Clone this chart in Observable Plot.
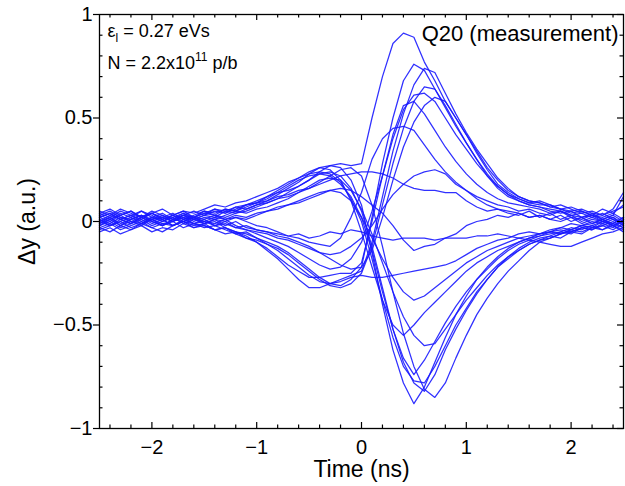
<!DOCTYPE html>
<html>
<head>
<meta charset="utf-8">
<script src="https://cdn.jsdelivr.net/npm/d3@7"></script>
<script src="https://cdn.jsdelivr.net/npm/@observablehq/plot@0.6"></script>
<style>
  html, body { margin: 0; padding: 0; background: #fff; }
  svg { display: block; }
</style>
</head>
<body>
<div id="chart"></div>
<script>
// ---- data ----
const time = [-2.5,-2.4,-2.3,-2.2,-2.1,-2.0,-1.9,-1.8,-1.7,-1.6,-1.5,-1.4,-1.3,-1.2,-1.1,
  -1.0,-0.9,-0.8,-0.7,-0.6,-0.5,-0.4,-0.3,-0.2,-0.1,
  0.0,0.1,0.2,0.3,0.4,0.5,0.6,0.7,0.8,0.9,1.0,
  1.1,1.2,1.3,1.4,1.5,1.6,1.7,1.8,1.9,2.0,2.1,2.2,2.3,2.4,2.5];

const p1 = [0.03,0.05,0.02,0.01,0.03,0.00,0.02,0.04,0.01,0.03,0.05,0.04,0.06,0.05,0.08,
  0.09,0.12,0.14,0.15,0.17,0.20,0.24,0.27,0.28,0.27,
  0.28,0.50,0.70,0.86,0.91,0.89,0.77,0.68,0.58,0.50,0.42,
  0.34,0.26,0.20,0.15,0.12,0.10,0.09,0.07,0.06,0.04,0.05,0.03,0.02,0.04,0.01];
const p2 = [-0.02,0.01,0.03,0.00,-0.01,0.02,0.01,-0.02,0.00,-0.03,-0.01,-0.04,-0.03,-0.06,-0.05,
  -0.08,-0.10,-0.12,-0.15,-0.19,-0.23,-0.27,-0.30,-0.31,-0.28,
  -0.22,0.02,0.28,0.50,0.68,0.76,0.73,0.64,0.55,0.46,0.38,
  0.30,0.23,0.17,0.13,0.10,0.08,0.07,0.06,0.05,0.03,0.04,0.02,0.00,0.02,-0.01];
const p3 = [0.04,0.02,0.05,0.03,0.01,0.04,0.02,0.00,0.03,0.01,-0.01,0.00,-0.03,-0.05,-0.07,
  -0.10,-0.14,-0.18,-0.23,-0.28,-0.32,-0.32,-0.30,-0.28,-0.26,
  -0.24,-0.10,0.12,0.34,0.52,0.66,0.74,0.72,0.62,0.52,0.43,
  0.35,0.28,0.21,0.16,0.12,0.10,0.09,0.07,0.08,0.06,0.04,0.05,0.03,0.06,0.14];
const p4 = [-0.05,-0.03,-0.06,-0.04,-0.02,-0.05,-0.03,-0.04,-0.01,-0.03,-0.02,-0.04,-0.06,-0.05,-0.08,
  -0.09,-0.11,-0.13,-0.16,-0.20,-0.24,-0.28,-0.31,-0.32,-0.30,
  -0.25,-0.12,0.08,0.28,0.45,0.58,0.65,0.64,0.56,0.47,0.38,
  0.30,0.22,0.16,0.12,0.10,0.08,0.07,0.05,0.04,0.05,0.02,0.03,0.01,-0.01,0.02];
const p5 = [0.01,-0.02,0.00,0.02,-0.01,0.01,0.03,0.00,0.02,-0.01,0.01,-0.02,0.00,-0.03,-0.02,
  -0.04,-0.05,-0.07,-0.08,-0.10,-0.12,-0.15,-0.18,-0.21,-0.23,
  -0.22,-0.14,0.02,0.20,0.36,0.48,0.56,0.60,0.58,0.50,0.42,
  0.33,0.25,0.18,0.14,0.11,0.09,0.08,0.08,0.06,0.05,0.06,0.04,0.03,0.05,0.07];
const p6 = [-0.01,0.02,-0.02,0.01,0.03,0.00,-0.02,0.01,0.00,-0.01,-0.03,-0.02,-0.04,-0.06,-0.08,
  -0.10,-0.13,-0.17,-0.21,-0.24,-0.27,-0.27,-0.26,-0.25,-0.25,
  -0.20,0.00,0.22,0.42,0.56,0.58,0.52,0.44,0.36,0.29,0.23,
  0.18,0.14,0.11,0.09,0.08,0.07,0.06,0.04,0.05,0.03,0.02,0.04,0.01,0.03,0.00];
const p7 = [0.02,0.00,0.03,0.05,0.02,0.04,0.01,0.03,0.05,0.02,0.04,0.03,0.01,0.02,0.00,
  -0.02,-0.03,-0.05,-0.07,-0.08,-0.10,-0.11,-0.12,-0.08,0.02,
  0.14,0.30,0.40,0.45,0.46,0.44,0.37,0.30,0.24,0.19,0.15,
  0.12,0.10,0.08,0.07,0.05,0.06,0.04,0.03,0.05,0.02,0.01,0.03,0.00,0.02,-0.02];
const p8 = [-0.03,-0.01,-0.04,-0.02,0.00,-0.03,-0.01,-0.02,0.01,-0.01,0.00,-0.02,-0.01,-0.03,-0.04,
  -0.05,-0.06,-0.08,-0.09,-0.11,-0.13,-0.15,-0.16,-0.15,-0.12,
  -0.08,-0.02,0.06,0.13,0.18,0.22,0.24,0.25,0.23,0.18,0.15,
  0.11,0.08,0.06,0.05,0.04,0.02,0.03,0.01,0.00,0.02,-0.01,0.01,0.00,-0.02,0.01];
const p9 = [0.00,0.02,-0.01,0.01,0.03,0.01,0.02,0.00,0.03,0.05,0.03,0.06,0.04,0.07,0.08,
  0.09,0.10,0.12,0.13,0.15,0.16,0.18,0.20,0.22,0.23,
  0.24,0.24,0.23,0.21,0.18,0.16,0.15,0.15,0.14,0.14,0.10,
  0.07,0.05,0.06,0.04,0.03,0.05,0.02,0.04,0.01,0.03,0.00,0.02,0.04,0.01,-0.01];
const p10 = [0.02,0.04,0.01,0.03,0.05,0.02,0.00,0.03,0.01,0.02,0.00,-0.01,0.01,-0.02,-0.04,
  -0.06,-0.08,-0.10,-0.12,-0.15,-0.18,-0.21,-0.23,-0.22,-0.18,
  -0.10,0.05,0.22,0.40,0.54,0.61,0.62,0.58,0.50,0.42,0.35,
  0.28,0.22,0.17,0.13,0.11,0.09,0.10,0.08,0.06,0.07,0.05,0.03,0.06,0.04,0.08];
const n1 = [-0.04,-0.02,0.00,-0.03,-0.01,0.01,-0.02,0.00,0.02,0.01,0.03,0.02,0.05,0.04,0.06,
  0.08,0.10,0.13,0.16,0.19,0.23,0.26,0.27,0.26,0.20,
  0.08,-0.15,-0.40,-0.62,-0.78,-0.88,-0.80,-0.68,-0.56,-0.45,-0.36,
  -0.28,-0.22,-0.17,-0.13,-0.10,-0.08,-0.06,-0.05,-0.03,-0.04,-0.02,-0.01,0.01,-0.02,0.00];
const n2 = [0.02,0.04,0.01,0.03,0.00,0.02,0.04,0.01,0.03,0.02,0.04,0.06,0.05,0.07,0.06,
  0.08,0.09,0.11,0.12,0.14,0.16,0.19,0.22,0.25,0.26,
  0.22,0.08,-0.12,-0.34,-0.54,-0.70,-0.81,-0.85,-0.78,-0.66,-0.55,
  -0.45,-0.37,-0.30,-0.24,-0.19,-0.14,-0.10,-0.08,-0.06,-0.05,-0.03,-0.04,-0.02,0.00,-0.03];
const n3 = [-0.01,0.01,-0.02,0.00,0.02,-0.01,0.01,-0.02,0.00,0.02,0.01,0.03,0.02,0.04,0.05,
  0.07,0.09,0.11,0.14,0.17,0.20,0.23,0.24,0.22,0.16,
  0.05,-0.12,-0.32,-0.52,-0.68,-0.78,-0.82,-0.74,-0.62,-0.52,-0.43,
  -0.35,-0.28,-0.22,-0.17,-0.13,-0.10,-0.08,-0.07,-0.05,-0.06,-0.03,-0.04,-0.01,-0.03,0.01];
const n4 = [0.05,0.03,0.06,0.04,0.02,0.05,0.03,0.01,0.04,0.02,0.05,0.03,0.06,0.05,0.07,
  0.09,0.11,0.14,0.17,0.20,0.22,0.23,0.22,0.18,0.12,
  0.02,-0.14,-0.34,-0.52,-0.66,-0.74,-0.67,-0.58,-0.49,-0.41,-0.34,
  -0.28,-0.23,-0.18,-0.14,-0.11,-0.09,-0.07,-0.06,-0.05,-0.03,-0.04,-0.02,0.00,-0.01,0.02];
const n5 = [0.00,-0.02,0.01,-0.01,0.02,0.00,-0.02,0.01,0.03,0.00,0.02,0.01,0.03,0.05,0.04,
  0.06,0.07,0.09,0.11,0.14,0.17,0.20,0.21,0.20,0.15,
  0.06,-0.06,-0.20,-0.34,-0.46,-0.55,-0.60,-0.59,-0.52,-0.45,-0.38,
  -0.32,-0.26,-0.21,-0.17,-0.14,-0.11,-0.09,-0.08,-0.06,-0.04,-0.05,-0.03,-0.02,-0.04,-0.01];
const n6 = [0.03,0.01,0.04,0.02,0.05,0.03,0.00,0.02,0.04,0.01,0.03,0.05,0.04,0.06,0.08,
  0.10,0.12,0.15,0.18,0.21,0.24,0.26,0.25,0.20,0.10,
  -0.05,-0.22,-0.38,-0.50,-0.55,-0.50,-0.44,-0.39,-0.34,-0.29,-0.24,
  -0.20,-0.17,-0.14,-0.12,-0.10,-0.08,-0.07,-0.05,-0.06,-0.04,-0.02,-0.03,0.00,-0.02,-0.04];
const n7 = [-0.03,-0.05,-0.02,-0.04,-0.01,-0.03,-0.05,-0.02,0.00,-0.02,-0.01,0.01,0.00,0.02,0.01,
  0.03,0.05,0.07,0.08,0.10,0.12,0.14,0.15,0.14,0.10,
  0.02,-0.08,-0.18,-0.27,-0.34,-0.38,-0.36,-0.32,-0.28,-0.24,-0.20,
  -0.17,-0.14,-0.12,-0.10,-0.08,-0.07,-0.06,-0.05,-0.04,-0.05,-0.03,-0.02,-0.04,-0.01,-0.03];
const n8 = [0.01,-0.01,0.02,0.00,-0.02,0.01,-0.01,0.00,-0.03,-0.01,-0.02,-0.04,-0.03,-0.05,-0.06,
  -0.08,-0.11,-0.14,-0.18,-0.22,-0.26,-0.29,-0.30,-0.29,-0.27,
  -0.26,-0.27,-0.27,-0.26,-0.25,-0.24,-0.23,-0.22,-0.21,-0.19,-0.16,
  -0.13,-0.11,-0.09,-0.08,-0.06,-0.05,-0.06,-0.04,-0.03,-0.01,-0.02,0.00,-0.01,0.01,-0.02];
const n9 = [-0.02,0.00,-0.03,-0.01,0.01,-0.02,0.00,0.02,-0.01,0.01,0.00,0.02,0.01,0.03,0.02,
  0.04,0.05,0.06,0.08,0.09,0.11,0.13,0.15,0.16,0.15,
  0.12,0.08,0.04,-0.02,-0.09,-0.14,-0.12,-0.11,-0.08,-0.06,-0.02,
  0.00,0.01,0.03,0.02,0.04,0.02,0.03,0.01,0.03,0.00,0.02,-0.01,0.01,0.03,0.12];
const n10 = [0.00,0.03,0.01,-0.01,0.02,0.04,0.01,0.03,0.00,0.02,-0.01,0.01,-0.02,0.00,-0.03,
  -0.04,-0.05,-0.06,-0.07,-0.06,-0.08,-0.07,-0.05,-0.06,-0.04,
  -0.05,-0.07,-0.08,-0.09,-0.08,-0.08,-0.08,-0.09,-0.08,-0.08,-0.08,
  -0.07,-0.07,-0.06,-0.07,-0.08,-0.09,-0.10,-0.11,-0.12,-0.12,-0.10,-0.08,-0.06,-0.05,-0.03];
const n11 = [0.04,0.06,0.03,0.05,0.02,0.04,0.06,0.03,0.05,0.04,0.06,0.08,0.07,0.09,0.10,
  0.12,0.14,0.16,0.19,0.21,0.23,0.24,0.23,0.19,0.11,
  0.00,-0.18,-0.38,-0.56,-0.70,-0.77,-0.78,-0.70,-0.60,-0.50,-0.42,
  -0.34,-0.28,-0.22,-0.18,-0.14,-0.11,-0.09,-0.07,-0.08,-0.05,-0.06,-0.03,-0.04,-0.02,-0.05];

const traceNames = ["p1","p2","p3","p4","p5","p6","p7","p8","p9","p10",
                    "n1","n2","n3","n4","n5","n6","n7","n8","n9","n10","n11"];
const traceValues = [p1,p2,p3,p4,p5,p6,p7,p8,p9,p10,n1,n2,n3,n4,n5,n6,n7,n8,n9,n10,n11];

const xMajorTicks = [-2, -1, 0, 1, 2];
const xMinorTicks = [-2.4,-2.2,-1.8,-1.6,-1.4,-1.2,-0.8,-0.6,-0.4,-0.2,0.2,0.4,0.6,0.8,1.2,1.4,1.6,1.8,2.2,2.4];
const yMajorTicks = [-1, -0.5, 0, 0.5, 1];
const yMinorTicks = [-0.9,-0.8,-0.7,-0.6,-0.4,-0.3,-0.2,-0.1,0.1,0.2,0.3,0.4,0.6,0.7,0.8,0.9];

const xLabel = "Time (ns)";
const yLabel = "\u0394y (a.u.)";
const titleText = "Q20 (measurement)";
const noteEps = ["\u03b5", "l", " = 0.27 eVs"];
const noteN = ["N = 2.2x10", "11", " p/b"];

// ---- build table ----
const rows = traceValues.flatMap((vals, k) =>
  vals.map((v, i) => ({t: time[i], v, id: traceNames[k]})));

const fmt = d => String(d).replace("-", "\u2212");
const FONT = "'Liberation Sans', Arial, Helvetica, sans-serif";

// layout (pixels)
const W = 625, H = 486, ML = 99, MR = 2, MT = 14, MB = 58;
const FW = W - ML - MR, FH = H - MT - MB;
const MAJ = 6, MIN = 3.5;
const TK = {stroke: "#000", strokeWidth: 1.2};

const plot = Plot.plot({
  width: W,
  height: H,
  marginLeft: ML,
  marginRight: MR,
  marginTop: MT,
  marginBottom: MB,
  style: {fontFamily: FONT, fontSize: "20px", color: "#000", background: "#fff", overflow: "visible"},
  x: {domain: [-2.5, 2.5]},
  y: {domain: [-1, 1]},
  marks: [
    Plot.line(rows, {x: "t", y: "v", z: "id", stroke: "#1a1aff", strokeWidth: 1.25, strokeOpacity: 0.9}),
    // inward ticks, bottom & top
    Plot.ruleX(xMajorTicks, {x: d => d, insetTop: FH - MAJ, ...TK}),
    Plot.ruleX(xMinorTicks, {x: d => d, insetTop: FH - MIN, ...TK}),
    Plot.ruleX(xMajorTicks, {x: d => d, insetBottom: FH - MAJ, ...TK}),
    Plot.ruleX(xMinorTicks, {x: d => d, insetBottom: FH - MIN, ...TK}),
    // left: major outward, minor inward; right: inward
    Plot.ruleY(yMajorTicks, {y: d => d, insetLeft: -MAJ, insetRight: FW, ...TK}),
    Plot.ruleY(yMinorTicks, {y: d => d, insetRight: FW - MIN, ...TK}),
    Plot.ruleY(yMajorTicks, {y: d => d, insetLeft: FW - MAJ, ...TK}),
    Plot.ruleY(yMinorTicks, {y: d => d, insetLeft: FW - MIN, ...TK}),
    Plot.frame({stroke: "#000", strokeWidth: 1.3}),
    // tick labels
    Plot.axisX({anchor: "bottom", ticks: xMajorTicks, tickSize: 0, tickPadding: 11, tickFormat: fmt, label: null, fontSize: 20}),
    Plot.axisY({anchor: "left", ticks: yMajorTicks, tickSize: 0, tickPadding: 7, tickFormat: fmt, label: null, fontSize: 20}),
    // axis titles
    Plot.text([xLabel], {frameAnchor: "bottom", dy: 41, textAnchor: "middle", lineAnchor: "middle", fontSize: 23}),
    Plot.text([yLabel], {frameAnchor: "left", dx: -72, rotate: -90, textAnchor: "middle", lineAnchor: "middle", fontSize: 23}),
    // annotations
    Plot.text([titleText], {frameAnchor: "top-right", dx: -5, dy: 19, textAnchor: "end", lineAnchor: "middle", fontSize: 22}),
    Plot.text([noteEps.join("")], {frameAnchor: "top-left", dx: 8, dy: 17, textAnchor: "start", lineAnchor: "middle", fontSize: 18}),
    Plot.text([noteN.join("")], {frameAnchor: "top-left", dx: 8, dy: 49, textAnchor: "start", lineAnchor: "middle", fontSize: 18})
  ]
});

// subscript / superscript for the annotations
d3.select(plot).selectAll("text").each(function () {
  const el = d3.select(this);
  const txt = this.textContent;
  if (txt === noteEps.join("")) {
    el.text(null);
    el.append("tspan").text(noteEps[0]);
    el.append("tspan").attr("dy", 5).attr("font-size", 12).text(noteEps[1]);
    el.append("tspan").attr("dy", -5).text(noteEps[2]);
  } else if (txt === noteN.join("")) {
    el.text(null);
    el.append("tspan").text(noteN[0]);
    el.append("tspan").attr("dy", -8).attr("font-size", 12).text(noteN[1]);
    el.append("tspan").attr("dy", 8).text(noteN[2]);
  }
});

document.getElementById("chart").appendChild(plot);
</script>
</body>
</html>
